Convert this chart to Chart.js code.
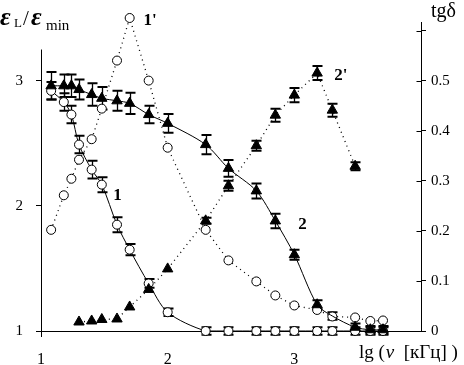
<!DOCTYPE html>
<html>
<head>
<meta charset="utf-8">
<script src="https://cdn.jsdelivr.net/npm/chart.js@4/dist/chart.umd.min.js"></script>
<style>
  body { margin: 0; background: #fff; }
  #wrap { width: 464px; height: 365px; }
</style>
</head>
<body>
<div id="wrap"><canvas id="c" width="464" height="365"></canvas></div>
<script>
(function () {

// ---------------------------------------------------------------- data

// lg(nu [kHz])
var lgNu  = [1.08, 1.18, 1.24, 1.30, 1.40, 1.48, 1.60, 1.70, 1.85, 2.00,
             2.30, 2.48, 2.70, 2.85, 3.00, 3.18, 3.30, 3.48, 3.60, 3.70];
var lgNu2 = [1.30, 1.40, 1.48, 1.60, 1.70, 1.85, 2.00, 2.30, 2.48, 2.70,
             2.85, 3.00, 3.18, 3.30, 3.48];

// curve 1 : eps_L / eps_min
var eps1    = [2.92, 2.83, 2.73, 2.49, 2.29, 2.17, 1.85, 1.65, 1.38, 1.15,
               1.00, 1.00, 1.00, 1.00, 1.00, 1.00, 1.00, 1.00, 1.00, 1.00];
var eps1Err = [0.07, 0.07, 0.07, 0.07, 0.07, 0.06, 0.06, 0.045, 0.035, 0.03,
               0.03, 0.03, 0.03, 0.03, 0.03, 0.03, 0.03, 0.03, 0.03, 0.03];

// curve 2 : eps_L / eps_min
var eps2    = [2.96, 2.96, 2.96, 2.93, 2.89, 2.86, 2.84, 2.82, 2.73, 2.66,
               2.49, 2.30, 2.12, 1.88, 1.61, 1.21, 1.12, 1.03, 1.01, 1.01];
var eps2Err = [0.11, 0.09, 0.09, 0.08, 0.09, 0.09, 0.08, 0.085, 0.07, 0.075,
               0.077, 0.067, 0.06, 0.058, 0.04, 0.035, 0.03, 0.03, 0.03, 0.03];

// curve 1' : tg delta
var tan1 = [0.202, 0.271, 0.304, 0.342, 0.383, 0.444, 0.54, 0.625, 0.50, 0.366,
            0.202, 0.141, 0.099, 0.071, 0.051, 0.042, 0.029, 0.027, 0.020, 0.021];

// curve 2' : tg delta
var tan2    = [0.018, 0.020, 0.023, 0.024, 0.048, 0.083, 0.124, 0.22, 0.29, 0.37,
               0.431, 0.471, 0.515, 0.441, 0.329];
var tan2Err = [0, 0, 0, 0, 0, 0, 0, 0.006, 0.01, 0.01,
               0.013, 0.014, 0.014, 0.013, 0.008];

var xTicks = [1, 2, 3];
var yLeftTicks = [1, 2, 3];
var yRightTicks = [0, 0.1, 0.2, 0.3, 0.4, 0.5, 0.6];

// curve labels: text, x, y, axis
var curveLabels = [
    ["1'", 1.81, 0.612, 'yR'],
    ["2'", 3.316, 0.502, 'yR'],
    ["1", 1.57, 2.046, 'yL'],
    ["2", 3.03, 1.815, 'yL']
];

// ---------------------------------------------------------------- helpers

function pts(xs, ys) {
    return xs.map(function (x, i) { return { x: x, y: ys[i] }; });
}

var SERIF = '"Liberation Serif", "Times New Roman", serif';

var errorBars = {
    id: 'errorBars',
    beforeDatasetsDraw: function (chart) {
        var ctx = chart.ctx;
        chart.data.datasets.forEach(function (ds, i) {
            if (!ds.errors) return;
            var meta = chart.getDatasetMeta(i);
            var ys = chart.scales[ds.yAxisID];
            ctx.save();
            ctx.strokeStyle = '#000';
            meta.data.forEach(function (el, j) {
                var e = ds.errors[j];
                if (!e) return;
                var v = ds.data[j].y;
                var y1 = ys.getPixelForValue(v + e);
                var y2 = ys.getPixelForValue(v - e);
                var x = Math.round(el.x) + 0.5;
                ctx.lineWidth = 1.3;
                ctx.beginPath();
                ctx.moveTo(x, y1); ctx.lineTo(x, y2);
                ctx.stroke();
                ctx.lineWidth = 2;
                ctx.beginPath();
                ctx.moveTo(x - 5, y1); ctx.lineTo(x + 5, y1);
                ctx.moveTo(x - 5, y2); ctx.lineTo(x + 5, y2);
                ctx.stroke();
            });
            ctx.restore();
        });
    }
};

var extras = {
    id: 'extras',
    afterDraw: function (chart) {
        var ctx = chart.ctx;
        var a = chart.chartArea;
        var yL = chart.scales.yL, yR = chart.scales.yR, x = chart.scales.x;
        ctx.save();
        ctx.strokeStyle = '#000';
        ctx.lineWidth = 1;

        // left axis line (short top, runs a bit below the x axis)
        var lx = Math.round(a.left) + 0.5;
        ctx.beginPath();
        ctx.moveTo(lx, yL.getPixelForValue(3.25));
        ctx.lineTo(lx, a.bottom + 6);
        ctx.stroke();

        // inner halves of right axis ticks
        var rx = Math.round(a.right) + 0.5;
        yRightTicks.forEach(function (v) {
            var py = Math.round(yR.getPixelForValue(v)) + 0.5;
            ctx.beginPath();
            ctx.moveTo(rx - 5, py); ctx.lineTo(rx, py);
            ctx.stroke();
        });

        ctx.fillStyle = '#000';
        ctx.textAlign = 'left';
        ctx.textBaseline = 'alphabetic';

        // curve labels
        ctx.font = 'bold 17px ' + SERIF;
        curveLabels.forEach(function (l) {
            ctx.fillText(l[0], x.getPixelForValue(l[1]), chart.scales[l[3]].getPixelForValue(l[2]));
        });

        // left title  eps_L / eps_min
        ctx.font = 'italic bold 26px ' + SERIF;
        ctx.fillText('\u03b5', 0, 25);
        ctx.font = '13px ' + SERIF;
        ctx.fillText('L', 14, 27);
        ctx.font = '21px ' + SERIF;
        ctx.fillText('/', 23, 25);
        ctx.font = 'italic bold 26px ' + SERIF;
        ctx.fillText('\u03b5', 31, 25);
        ctx.font = '15px ' + SERIF;
        ctx.fillText('min', 46, 30);

        // right title
        ctx.font = '20px ' + SERIF;
        ctx.fillText('tg\u03b4', 431, 17);

        // x title  lg (nu [kHz])
        var tx = 359, ty = 358;
        ctx.font = '19px ' + SERIF;
        ctx.fillText('lg (', tx, ty);
        tx += ctx.measureText('lg (').width + 1;
        ctx.font = 'italic 19px ' + SERIF;
        ctx.fillText('\u03bd', tx, ty);
        tx += ctx.measureText('\u03bd').width;
        ctx.font = '19px ' + SERIF;
        ctx.fillText('  [\u043a\u0413\u0446] )', tx, ty);

        ctx.restore();
    }
};

// ---------------------------------------------------------------- chart

var ctx = document.getElementById('c').getContext('2d');

var eps2Radius = eps2.map(function (v, i) { return i === 16 ? 0 : 6; });

new Chart(ctx, {
    type: 'scatter',
    data: {
        datasets: [
            {
                label: '2', data: pts(lgNu, eps2), yAxisID: 'yL', errors: eps2Err,
                showLine: true, borderColor: '#000', borderWidth: 1, tension: 0.3,
                pointStyle: 'triangle', pointRadius: eps2Radius,
                pointBackgroundColor: '#000', pointBorderColor: '#000', pointBorderWidth: 1,
                clip: false
            },
            {
                label: "2'", data: pts(lgNu2, tan2), yAxisID: 'yR', errors: tan2Err,
                showLine: true, borderColor: '#000', borderWidth: 1.3, borderDash: [1, 4],
                pointStyle: 'triangle', pointRadius: 6,
                pointBackgroundColor: '#000', pointBorderColor: '#000', pointBorderWidth: 1,
                clip: false
            },
            {
                label: '1', data: pts(lgNu, eps1), yAxisID: 'yL', errors: eps1Err,
                showLine: true, borderColor: '#000', borderWidth: 1, tension: 0.3,
                pointStyle: 'circle', pointRadius: 4.5,
                pointBackgroundColor: '#fff', pointBorderColor: '#000', pointBorderWidth: 1,
                clip: false
            },
            {
                label: "1'", data: pts(lgNu, tan1), yAxisID: 'yR',
                showLine: true, borderColor: '#000', borderWidth: 1.3, borderDash: [1, 4],
                pointStyle: 'circle', pointRadius: 4.5,
                pointBackgroundColor: '#fff', pointBorderColor: '#000', pointBorderWidth: 1,
                clip: false
            }
        ]
    },
    options: {
        responsive: false,
        animation: false,
        events: [],
        layout: { padding: { top: 10, left: 0, right: 0, bottom: 0 } },
        plugins: { legend: { display: false }, tooltip: { enabled: false } },
        scales: {
            x: {
                type: 'linear', position: 'bottom', min: 1, max: 4,
                afterFit: function (s) { s.height = 34; },
                afterBuildTicks: function (s) { s.ticks = xTicks.map(function (v) { return { value: v }; }); },
                grid: { display: false, drawTicks: false },
                border: { display: true, color: '#000', width: 1 },
                ticks: { color: '#000', font: { family: SERIF, size: 16 }, padding: 19, maxRotation: 0 }
            },
            yL: {
                type: 'linear', position: 'left', min: 1, max: 3.47,
                afterFit: function (s) { s.width = 41; },
                afterBuildTicks: function (s) { s.ticks = yLeftTicks.map(function (v) { return { value: v }; }); },
                grid: { drawOnChartArea: false, drawTicks: true, tickLength: 5, color: '#000' },
                border: { display: false },
                ticks: { color: '#000', font: { family: SERIF, size: 15 }, padding: 13, autoSkip: false }
            },
            yR: {
                type: 'linear', position: 'right', min: 0, max: 0.617,
                afterFit: function (s) { s.width = 43; },
                afterBuildTicks: function (s) { s.ticks = yRightTicks.map(function (v) { return { value: v }; }); },
                grid: { drawOnChartArea: false, drawTicks: true, tickLength: 5, color: '#000' },
                border: { display: true, color: '#000', width: 1 },
                ticks: {
                    color: '#000', font: { family: SERIF, size: 15 }, padding: 5, autoSkip: false,
                    callback: function (v) { return v === 0 ? '0' : (v > 0.55 ? '' : v.toFixed(1)); }
                }
            }
        }
    },
    plugins: [errorBars, extras]
});

})();
</script>
</body>
</html>
